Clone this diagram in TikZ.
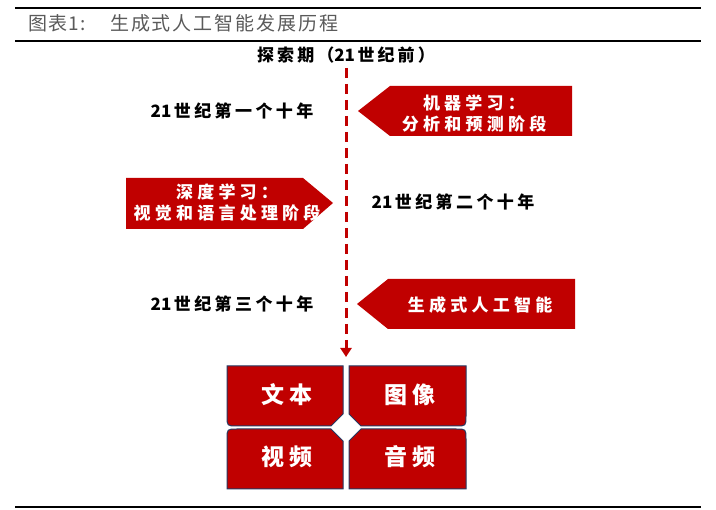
\documentclass[tikz,border=0pt]{standalone}
\usepackage{fontspec}
\newfontfamily\cjk{Noto Sans CJK SC}
\usetikzlibrary{arrows.meta}
\definecolor{cred}{HTML}{C00000}
\definecolor{cnavy}{HTML}{243A63}
\definecolor{cgray}{HTML}{5A5A5A}
\newcommand{\tightdg}[1]{{\addfontfeature{LetterSpace=0}#1}\hspace{0.15em}}
\tikzset{
  rule/.style={line width=2.6pt, black},
  redshape/.style={fill=cred, draw=none},
  boxshape/.style={fill=cred, draw=cnavy, line width=1pt},
  lbl/.style={font=\cjk\bfseries\fontsize{17}{19}\selectfont\addfontfeature{LetterSpace=20}, text=black, inner sep=0pt},
  wtxt/.style={font=\cjk\bfseries\fontsize{17}{21}\selectfont\addfontfeature{LetterSpace=25}, text=white, inner sep=0pt, align=center},
  btxt/.style={font=\cjk\bfseries\fontsize{23}{26}\selectfont\addfontfeature{LetterSpace=20}, text=white, inner sep=0pt},
}
\begin{document}
\begin{tikzpicture}[x=1pt,y=-1pt]
\useasboundingbox (0,0) rectangle (716,510);
% header rules
\draw[rule] (15,8) -- (701,8);
\draw[rule] (15,41) -- (701,41);
\draw[rule] (15,507) -- (701,507);
\node[font=\cjk\fontsize{19}{22}\selectfont, text=cgray, anchor=west, inner sep=0pt] (title) at (28,23) {\addfontfeature{LetterSpace=6}图表1:\hspace{1.3em}\addfontfeature{LetterSpace=10}生成式人工智能发展历程};
% top label
\node[lbl, font=\cjk\bfseries\fontsize{17}{19}\selectfont\addfontfeature{LetterSpace=18}] (explore) at (346,55) {探索期（\tightdg{21}世纪前）};
% dashed timeline
\coordinate (dtop) at (346,68);
\coordinate (dbot) at (346,357);
\draw[cred, line width=3pt, dash pattern=on 10pt off 6pt, -{Triangle[width=11pt,length=9pt]}] (dtop) -- (dbot);
% arrow shapes
\fill[redshape] (358,111) -- (390,86) -- (572,86) -- (572,136) -- (390,136) -- cycle;
\fill[redshape] (126,178) -- (303,178) -- (333,203) -- (303,229) -- (126,229) -- cycle;
\fill[redshape] (357,304) -- (388,279) -- (575,279) -- (575,329) -- (388,329) -- cycle;
\node[wtxt] (ml) at (474,114) {机器学习：\\分析和预测阶段};
\node[wtxt] (dl) at (227,203) {深度学习：\\视觉和语言处理阶段};
\node[wtxt] (gen) at (480,305) {生成式人工智能};
% decade labels
\node[lbl] (d1) at (232,111) {\tightdg{21}世纪第一个十年};
\node[lbl] (d2) at (453,202) {\tightdg{21}世纪第二个十年};
\node[lbl] (d3) at (232,304) {\tightdg{21}世纪第三个十年};
% four boxes
\draw[boxshape] (227,366) -- (343,366) -- (343,414) -- (331,426) -- (237,426) .. controls (227,426) .. (227,416) -- cycle;
\draw[boxshape] (349,366) -- (466,366) -- (466,416) .. controls (466,426) .. (456,426) -- (361,426) -- (349,414) -- cycle;
\draw[boxshape] (227,439) .. controls (227,429) .. (237,429) -- (331,429) -- (343,441) -- (343,489) -- (227,489) -- cycle;
\draw[boxshape] (349,441) -- (361,429) -- (456,429) .. controls (466,429) .. (466,439) -- (466,489) -- (349,489) -- cycle;
\node[btxt] (text) at (287,395) {文本};
\node[btxt] (image) at (410,395) {图像};
\node[btxt] (video) at (287,457) {视频};
\node[btxt] (audio) at (410,457) {音频};
\end{tikzpicture}
\end{document}
